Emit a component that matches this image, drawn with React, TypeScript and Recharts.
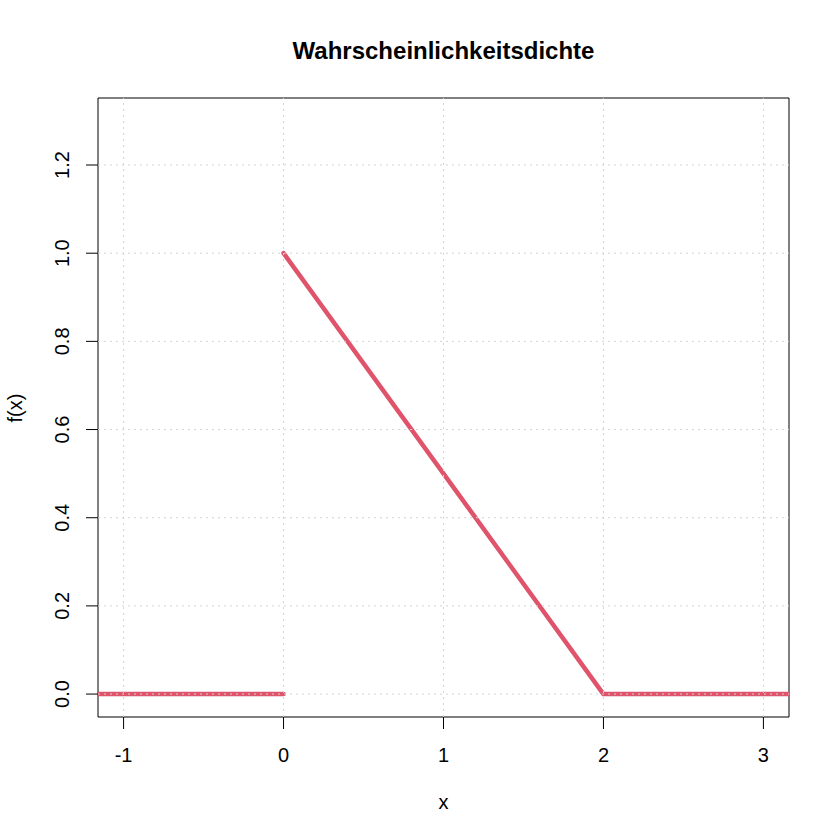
import { LineChart, Line, XAxis, YAxis, ReferenceLine, ReferenceArea } from 'recharts';

const xTicks = [-1, 0, 1, 2, 3];
const yTicks = [0, 0.2, 0.4, 0.6, 0.8, 1.0, 1.2];
const xDomain = [-1.16, 3.16];
const yDomain = [-0.052, 1.352];

// links von 0 ist die Dichte null
const leftX = [-1.16, 0];
const leftY = [0, 0];
// Dreieck von 0 bis 2, dann wieder null
const rightX = [0, 2, 3.16];
const rightY = [1, 0, 0];

const leftData = leftX.map((x, i) => ({ x, y: leftY[i] }));
const rightData = rightX.map((x, i) => ({ x, y: rightY[i] }));

const font = '"Liberation Sans", Arial, Helvetica, sans-serif';
const lineColor = '#DF536B';
const gridColor = '#D3D3D3';

const XTick = (props: any) => {
  const { x, payload } = props;
  return (
    <text x={x} y={755} textAnchor="middle" dominantBaseline="central" fontSize={20} fontFamily={font} fill="#000">
      {payload.value}
    </text>
  );
};

const YTick = (props: any) => {
  const { y, payload } = props;
  const cx = 62;
  return (
    <text
      x={cx}
      y={y}
      transform={`rotate(-90 ${cx} ${y})`}
      textAnchor="middle"
      dominantBaseline="central"
      fontSize={20}
      fontFamily={font}
      fill="#000"
    >
      {Number(payload.value).toFixed(1)}
    </text>
  );
};

export default function App() {
  return (
    <div style={{ position: 'absolute', left: 0, top: 0, width: 840, height: 840, background: '#fff', fontFamily: font }}>
      <div style={{ position: 'absolute', left: 98, width: 691, top: 37, textAlign: 'center', fontSize: 24, fontWeight: 'bold' }}>
        Wahrscheinlichkeitsdichte
      </div>
      <div style={{ position: 'absolute', left: 98, width: 691, top: 791, textAlign: 'center', fontSize: 20 }}>x</div>
      <div
        style={{
          position: 'absolute',
          left: 15,
          top: 408,
          transform: 'translate(-50%, -50%) rotate(-90deg)',
          fontSize: 20,
          whiteSpace: 'nowrap',
        }}
      >
        f(x)
      </div>
      <LineChart width={840} height={840} margin={{ top: 98, right: 51, bottom: 63, left: 38 }}>
        <XAxis
          type="number"
          dataKey="x"
          domain={xDomain}
          ticks={xTicks}
          allowDataOverflow
          axisLine={false}
          tickSize={12}
          tickLine={{ stroke: '#000' }}
          tick={<XTick />}
          height={60}
        />
        <YAxis
          type="number"
          dataKey="y"
          domain={yDomain}
          ticks={yTicks}
          allowDataOverflow
          axisLine={false}
          tickSize={12}
          tickLine={{ stroke: '#000' }}
          tick={<YTick />}
          width={60}
        />
        <Line
          data={leftData}
          dataKey="y"
          stroke={lineColor}
          strokeWidth={4.5}
          strokeLinecap="round"
          dot={false}
          type="linear"
          isAnimationActive={false}
        />
        <Line
          data={rightData}
          dataKey="y"
          stroke={lineColor}
          strokeWidth={4.5}
          strokeLinecap="round"
          strokeLinejoin="round"
          dot={false}
          type="linear"
          isAnimationActive={false}
        />
        {xTicks.map((t) => (
          <ReferenceLine key={`gx${t}`} x={t} stroke={gridColor} strokeDasharray="2 4" />
        ))}
        {yTicks.map((t) => (
          <ReferenceLine key={`gy${t}`} y={t} stroke={gridColor} strokeDasharray="2 4" />
        ))}
        <ReferenceArea
          x1={xDomain[0]}
          x2={xDomain[1]}
          y1={yDomain[0]}
          y2={yDomain[1]}
          fill="none"
          fillOpacity={0}
          stroke="#000"
          strokeWidth={1}
          ifOverflow="visible"
        />
      </LineChart>
    </div>
  );
}
